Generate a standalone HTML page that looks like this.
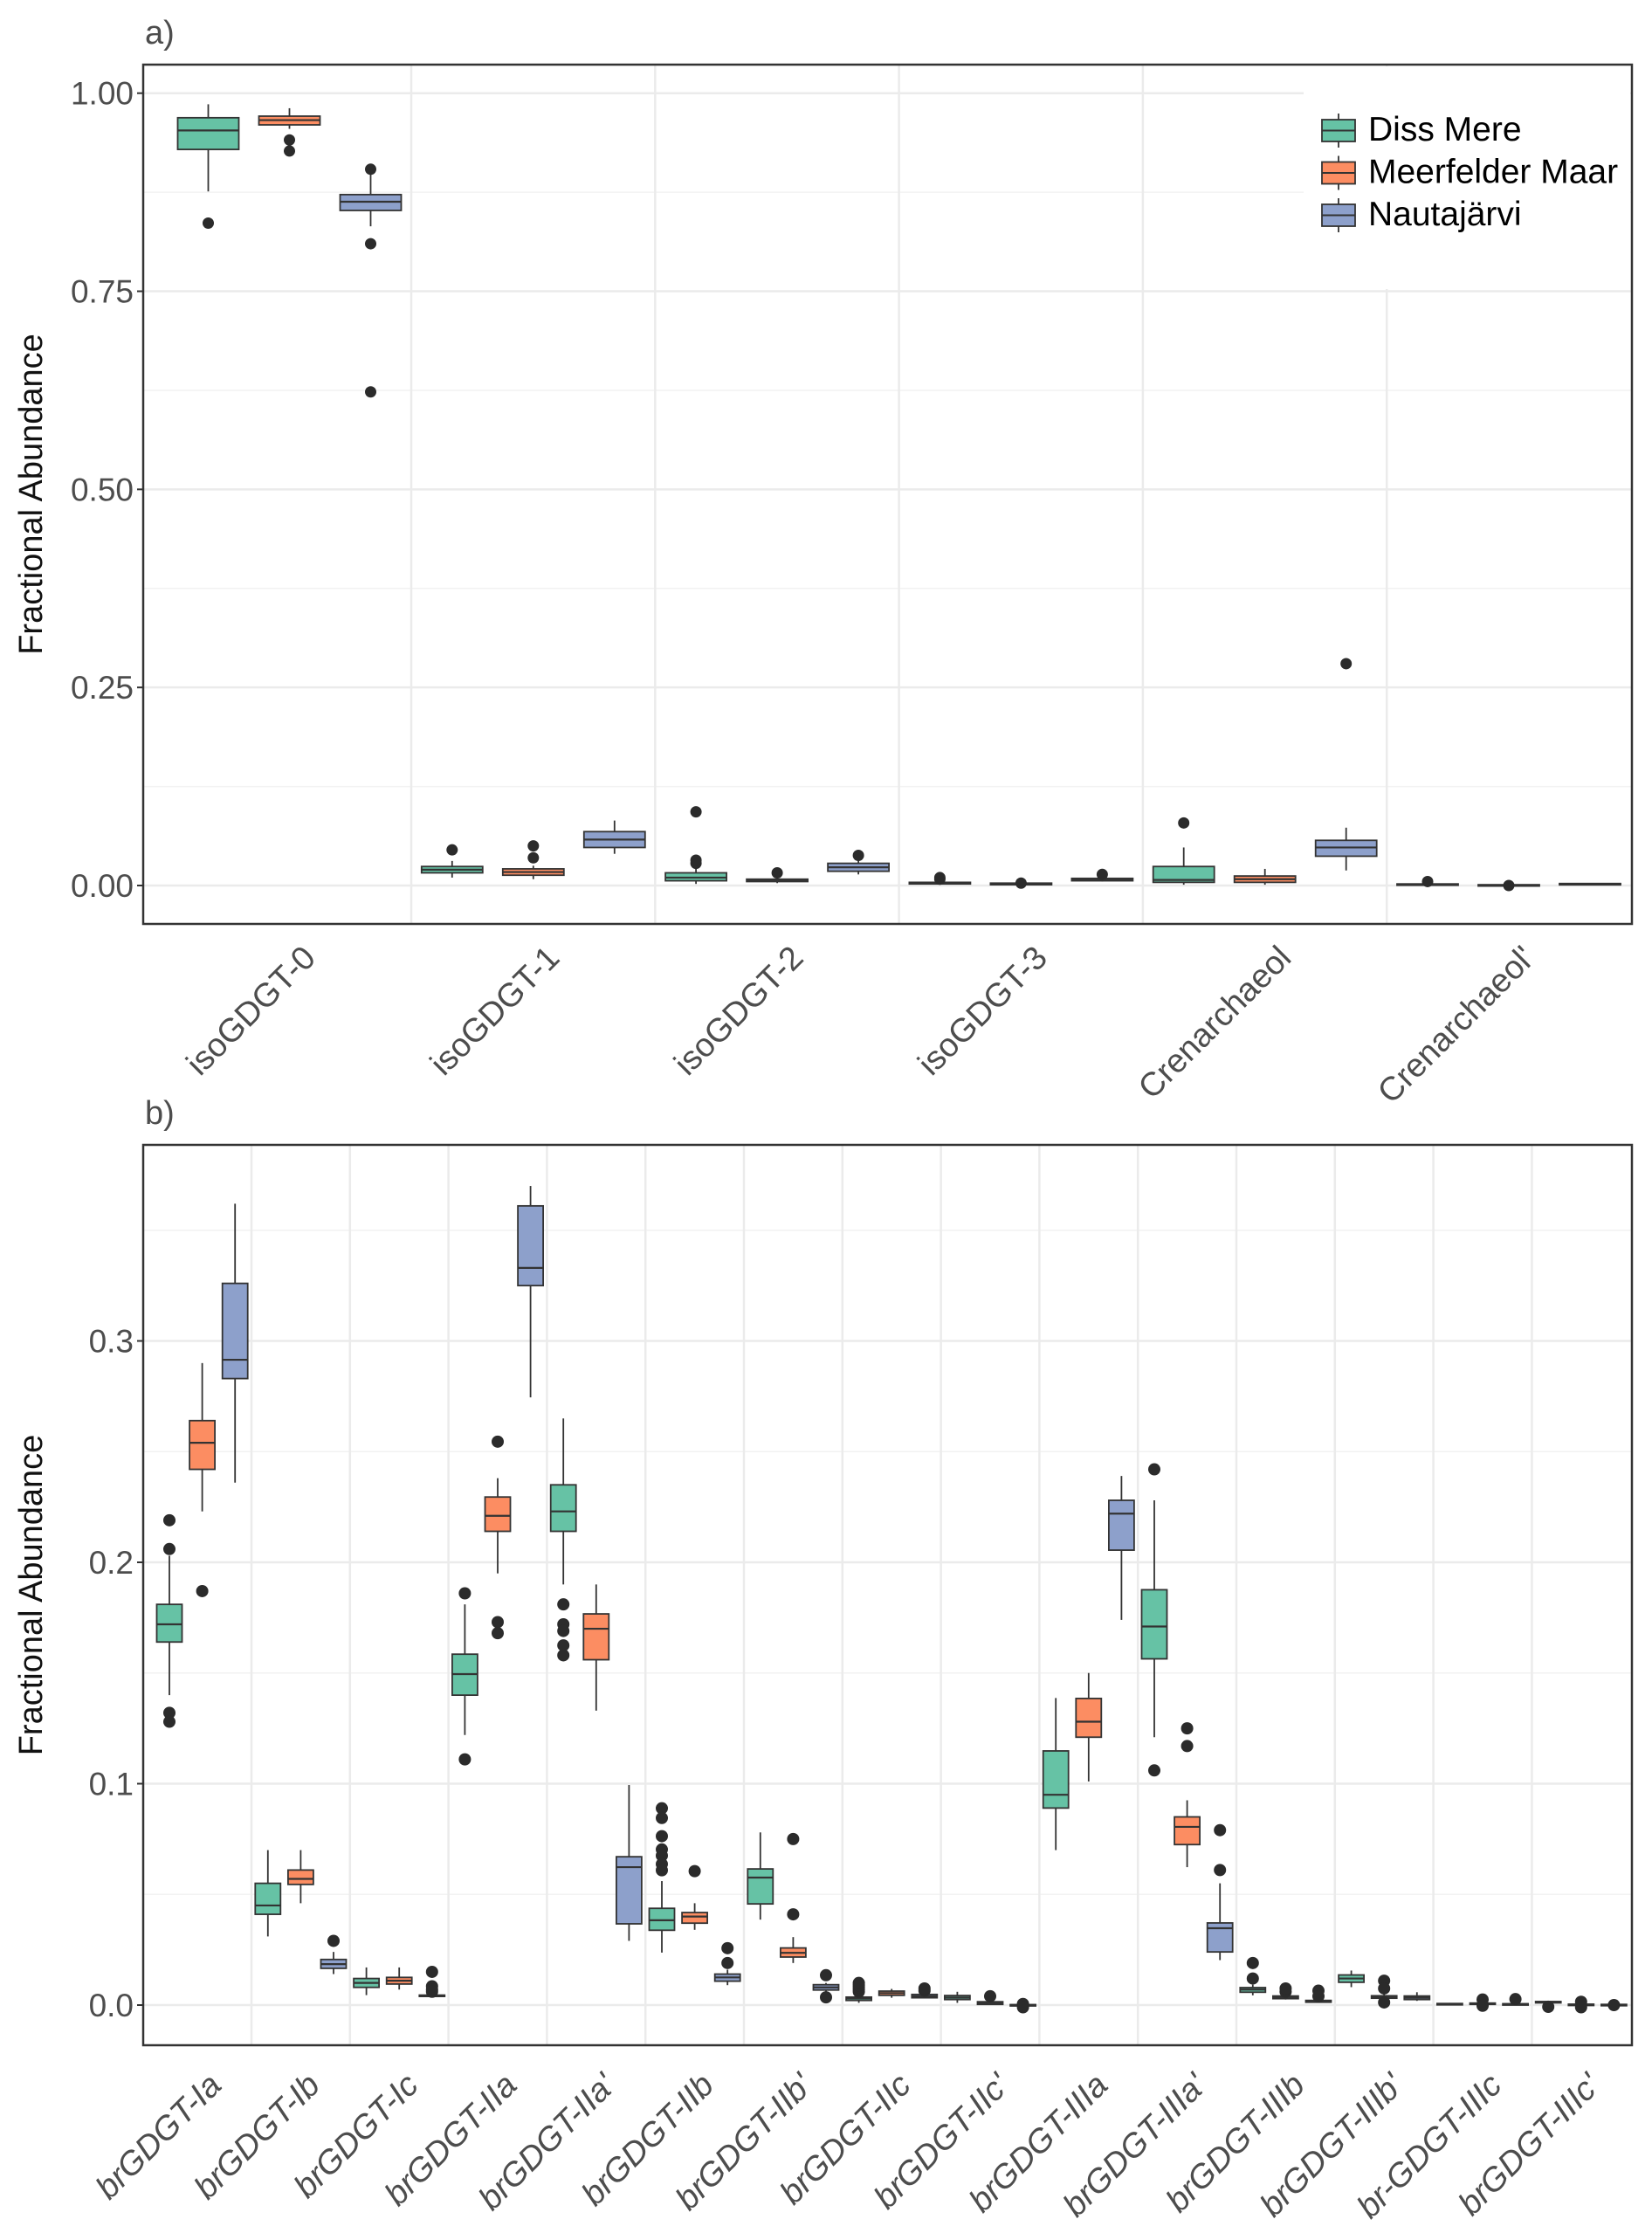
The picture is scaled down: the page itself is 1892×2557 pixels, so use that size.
<!DOCTYPE html>
<html><head><meta charset="utf-8"><style>
html,body{margin:0;padding:0;background:#fff}
svg text{font-family:"Liberation Sans",sans-serif}
</style></head><body>
<svg id="chart" xmlns="http://www.w3.org/2000/svg" width="1892" height="2552" viewBox="0 0 1892 2552">
<rect x="0" y="0" width="1892" height="2552" fill="#fff"/>
<g id="panelA"></g>
<g id="panelB"></g>
</svg>
<script>
const seriesNames = ["Diss Mere","Meerfelder Maar","Nautajärvi"];
const seriesColors = ["#66c2a5","#fc8d62","#8da0cb"];

// ---- Panel a data: [lowerWhisker, q1, median, q3, upperWhisker]
const aCategories = ["isoGDGT-0","isoGDGT-1","isoGDGT-2","isoGDGT-3","Crenarchaeol","Crenarchaeol'"];
const aTicks = [0,0.25,0.5,0.75,1.0];
const aTickLabels = ["0.00","0.25","0.50","0.75","1.00"];
const aDissStats = [[0.876,0.929,0.953,0.969,0.986],[0.010,0.016,0.020,0.024,0.031],[0.002,0.006,0.010,0.016,0.025],[0.001,0.002,0.003,0.004,0.006],[0.001,0.004,0.007,0.024,0.048],[0,0.0005,0.001,0.002,0.003]];
const aDissOut = [[0.836],[0.045],[0.028,0.032,0.093],[0.008,0.010],[0.079],[0.005]];
const aMeerStats = [[0.955,0.960,0.966,0.971,0.981],[0.008,0.013,0.017,0.021,0.025],[0.003,0.005,0.006,0.008,0.010],[0,0.001,0.002,0.003,0.004],[0.001,0.004,0.008,0.012,0.021],[0,0,0.0005,0.001,0.001]];
const aMeerOut = [[0.941,0.927],[0.035,0.050],[0.016],[0.003],[],[0.0]];
const aNautStats = [[0.832,0.852,0.863,0.872,0.898],[0.040,0.048,0.058,0.068,0.082],[0.014,0.018,0.023,0.028,0.033],[0.005,0.006,0.007,0.009,0.010],[0.019,0.037,0.048,0.057,0.073],[0.001,0.0015,0.002,0.0025,0.003]];
const aNautOut = [[0.904,0.810,0.623],[],[0.038],[0.014],[0.280],[]];

// ---- Panel b data
const bCategories = ["brGDGT-Ia","brGDGT-Ib","brGDGT-Ic","brGDGT-IIa","brGDGT-IIa'","brGDGT-IIb","brGDGT-IIb'","brGDGT-IIc","brGDGT-IIc'","brGDGT-IIIa","brGDGT-IIIa'","brGDGT-IIIb","brGDGT-IIIb'","br-GDGT-IIIc","brGDGT-IIIc'"];
const bTicks = [0,0.1,0.2,0.3];
const bTickLabels = ["0.0","0.1","0.2","0.3"];
const bDissStats = [[0.140,0.164,0.172,0.181,0.203],[0.031,0.041,0.045,0.055,0.070],[0.0045,0.008,0.010,0.012,0.017],[0.122,0.140,0.1495,0.1585,0.181],[0.190,0.214,0.223,0.235,0.265],[0.0237,0.0338,0.0383,0.0437,0.056],[0.0386,0.0457,0.0576,0.0615,0.078],[0.001,0.0021,0.003,0.0036,0.005],[0.001,0.0025,0.0034,0.0043,0.006],[0.070,0.089,0.095,0.1148,0.1387],[0.121,0.1564,0.171,0.1876,0.228],[0.0044,0.0058,0.007,0.0079,0.0092],[0.0081,0.0103,0.012,0.0136,0.0156],[0,0.0003,0.0005,0.0007,0.001],[0.0005,0.001,0.0013,0.0016,0.002]];
const bDissOut = [[0.219,0.206,0.132,0.128],[],[],[0.186,0.111],[0.181,0.172,0.169,0.1625,0.158],[0.0889,0.0845,0.0763,0.0703,0.0675,0.0637,0.0609],[],[0.006,0.007,0.008,0.009,0.010],[],[],[0.242,0.106],[0.019,0.012],[],[],[-0.0008]];
const bMeerStats = [[0.223,0.242,0.254,0.264,0.290],[0.046,0.0545,0.057,0.061,0.070],[0.007,0.0095,0.011,0.0125,0.017],[0.195,0.214,0.221,0.2295,0.238],[0.133,0.156,0.170,0.1767,0.190],[0.034,0.037,0.040,0.0418,0.046],[0.019,0.0217,0.0236,0.0258,0.0307],[0.0033,0.0044,0.0054,0.0063,0.0073],[0,0.0003,0.001,0.0015,0.002],[0.101,0.121,0.128,0.1385,0.150],[0.0623,0.0725,0.0805,0.085,0.0925],[0.0025,0.0029,0.0035,0.0041,0.005],[0.002,0.0031,0.0036,0.0042,0.005],[0.0002,0.0004,0.0006,0.0009,0.0012],[0,0,0.0002,0.0004,0.0006]];
const bMeerOut = [[0.187],[],[],[0.2545,0.173,0.168],[],[0.0605],[0.075,0.041],[],[0.004],[],[0.125,0.117],[0.006,0.0075],[0.011,0.0075,0.0012],[0.0025,-0.0003],[0.0015,-0.001]];
const bNautStats = [[0.236,0.283,0.2915,0.326,0.362],[0.014,0.0166,0.0185,0.0206,0.024],[0.0035,0.004,0.004,0.0045,0.005],[0.2745,0.325,0.333,0.361,0.370],[0.029,0.0367,0.0623,0.067,0.0994],[0.009,0.0108,0.0125,0.014,0.016],[0.006,0.0068,0.008,0.0092,0.010],[0.003,0.0033,0.004,0.0048,0.0055],[-0.0003,-0.0003,0,0.0002,0.0003],[0.174,0.2055,0.222,0.228,0.239],[0.0203,0.024,0.0347,0.0371,0.055],[0.001,0.0013,0.0017,0.0021,0.0025],[0.0019,0.0025,0.0033,0.0041,0.0058],[0,0.0002,0.0004,0.0006,0.0008],[0,0,0.0001,0.0003,0.0004]];
const bNautOut = [[],[0.029],[0.015,0.0085,0.007,0.006],[],[],[0.0257,0.019],[0.0135,0.0035],[0.0065,0.0075],[0.0005,-0.001],[],[0.079,0.061],[0.0065,0.004],[],[0.0027],[0.0]];

const NS = "http://www.w3.org/2000/svg";
function mk(tag, attrs, parent){
  const e = document.createElementNS(NS, tag);
  for (const k in attrs) e.setAttribute(k, attrs[k]);
  parent.appendChild(e);
  return e;
}

function drawPanel(cfg){
  const g = document.getElementById(cfg.id);
  const L=cfg.left,R=cfg.right,T=cfg.top,B=cfg.bottom;
  // minor gridlines
  cfg.minor.forEach(v=>{
    const l = mk('line',{x1:L,x2:R,y1:cfg.y(v),y2:cfg.y(v),stroke:'#f2f2f2','stroke-width':1.5},g);
    
    
  });
  cfg.ticks.forEach((v,i)=>{
    const l = mk('line',{x1:L,x2:R,y1:cfg.y(v),y2:cfg.y(v),stroke:'#ebebeb','stroke-width':2.5},g);
    
    
    const tk = mk('line',{x1:L-7,x2:L,y1:cfg.y(v),y2:cfg.y(v),stroke:'#333','stroke-width':2},g);
    
    
    const t = mk('text',{x:L-11,y:cfg.y(v)+13,'text-anchor':'end','font-size':37,fill:'#4d4d4d'},g);
    t.textContent = cfg.tickLabels[i];
    
    
  });
  for (let k=0;k<cfg.cats.length-1;k++){
    const x = cfg.sep(k);
    const l = mk('line',{x1:x,x2:x,y1:T,y2:B,stroke:'#ebebeb','stroke-width':2.5},g);
    
    
  }
  if (cfg.legendBg){
    const lb = mk('rect',cfg.legendBg,g);
    lb.setAttribute('fill','#fff');
    
    
  }
  const stats=[cfg.s0,cfg.s1,cfg.s2], outs=[cfg.o0,cfg.o1,cfg.o2];
  for (let c=0;c<cfg.cats.length;c++){
    for (let s=0;s<3;s++){
      const st=stats[s][c]; const cx=cfg.x(c,s); const w=cfg.bw;
      const bg = mk('g',{},g);
      
      
      mk('line',{x1:cx,x2:cx,y1:cfg.y(st[4]),y2:cfg.y(st[3]),stroke:'#333','stroke-width':1.8},bg);
      mk('line',{x1:cx,x2:cx,y1:cfg.y(st[1]),y2:cfg.y(st[0]),stroke:'#333','stroke-width':1.8},bg);
      const yt=cfg.y(st[3]), yb=cfg.y(st[1]);
      mk('rect',{x:cx-w/2,y:yt,width:w,height:Math.max(yb-yt,1.5),fill:seriesColors[s],stroke:'#333','stroke-width':1.8},bg);
      mk('line',{x1:cx-w/2,x2:cx+w/2,y1:cfg.y(st[2]),y2:cfg.y(st[2]),stroke:'#333','stroke-width':2.2},bg);
      outs[s][c].forEach(v=>{
        const d = mk('circle',{cx:cx,cy:cfg.y(v),r:cfg.r,fill:'#2b2b2b'},bg);
        
        
      });
    }
    const lx = cfg.labX(c), ly = cfg.labY;
    const t = mk('text',{x:lx,y:ly,'text-anchor':'end','font-size':38,fill:'#4d4d4d',transform:'rotate(-45 '+lx+' '+ly+')'},g);
    if (cfg.italic) t.setAttribute('font-style','italic');
    t.textContent = cfg.cats[c];
    
    
  }
  const fr = mk('rect',{x:L,y:T,width:R-L,height:B-T,fill:'none',stroke:'#333','stroke-width':2.5},g);
  
  
  const tl = mk('text',{x:L+2,y:T-24,'font-size':38,fill:'#4d4d4d'},g);
  tl.textContent = cfg.tag;
  
  
  const ax = mk('text',{x:48,y:(T+B)/2,'text-anchor':'middle','font-size':38,fill:'#111',transform:'rotate(-90 48 '+((T+B)/2)+')'},g);
  ax.textContent = 'Fractional Abundance';
  
  
}

drawPanel({id:'panelA',left:164,right:1869,top:74,bottom:1058,tag:'a)',
  y:v=>1014-v*907.3, x:(c,s)=>331.5+279.3*c+(s-1)*93, sep:k=>471+279.3*k,
  bw:70, r:6.5, ticks:aTicks, tickLabels:aTickLabels, minor:[0.125,0.375,0.625,0.875],
  cats:aCategories, s0:aDissStats,s1:aMeerStats,s2:aNautStats,o0:aDissOut,o1:aMeerOut,o2:aNautOut,
  labX:c=>331.5+279.3*c+32, labY:1099, italic:false,
  legendBg:{x:1493,y:76,width:374,height:255}});

drawPanel({id:'panelB',left:164,right:1869,top:1311,bottom:2342,tag:'b)',
  y:v=>2296-v*2535, x:(c,s)=>194+37.6*(3*c+s), sep:k=>288+112.8*k,
  bw:29, r:7, ticks:bTicks, tickLabels:bTickLabels, minor:[0.05,0.15,0.25,0.35],
  cats:bCategories, s0:bDissStats,s1:bMeerStats,s2:bNautStats,o0:bDissOut,o1:bMeerOut,o2:bNautOut,
  labX:c=>231.6+112.8*c+24, labY:2390, italic:true});

// legend
(function(){
  const g = document.getElementById('panelA');
  const lg = mk('g',{},g);
  
  
  for (let s=0;s<3;s++){
    const y0 = 137 + 48.5*s;
    const e = mk('g',{},lg);
    
    
    mk('line',{x1:1533,x2:1533,y1:y0-7,y2:y0+32,stroke:'#333','stroke-width':1.8},e);
    mk('rect',{x:1514,y:y0,width:38,height:25,fill:seriesColors[s],stroke:'#333','stroke-width':1.8},e);
    mk('line',{x1:1514,x2:1552,y1:y0+12.5,y2:y0+12.5,stroke:'#333','stroke-width':2},e);
    const t = mk('text',{x:1567,y:y0+24,'font-size':39,fill:'#000'},e);
    t.textContent = seriesNames[s];
  }
})();
</script>
</body></html>
